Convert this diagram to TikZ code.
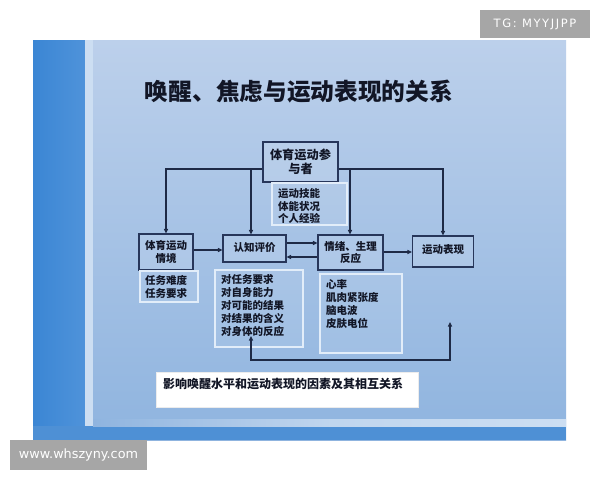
\documentclass[tikz,border=0pt]{standalone}
\usepackage{fontspec}
\newfontfamily\cjk{Noto Sans CJK SC}
\newfontfamily\wm{DejaVu Sans}
\usetikzlibrary{arrows.meta}
\definecolor{bgtop}{HTML}{BCD0EB}
\definecolor{bgbot}{HTML}{8FB4DF}
\definecolor{stripL}{HTML}{3B86D4}
\definecolor{stripR}{HTML}{4F93DA}
\definecolor{lightln}{HTML}{CCDEF2}
\definecolor{botstrip}{HTML}{3E87D2}
\definecolor{boxline}{HTML}{27365A}
\definecolor{subline}{HTML}{E2EDF9}
\definecolor{lc}{HTML}{1E2A46}
\definecolor{txt}{HTML}{121626}
\definecolor{wmgray}{HTML}{A6A6A6}
\tikzset{
  mainbox/.style={draw=boxline, line width=1.1pt, fill=white, fill opacity=0.12, text opacity=1,
    inner sep=0pt, align=center, text=txt, font=\cjk\bfseries\fontsize{10.5}{12.2}\selectfont},
  subbox/.style={draw=subline, line width=1.1pt, fill=white, fill opacity=0.08, inner sep=0pt},
  subtext/.style={anchor=west, inner sep=0pt, align=left, text=txt, font=\cjk\bfseries\fontsize{10.5}{12.8}\selectfont},
  arr/.style={draw=lc, line width=1.1pt, -{Triangle[length=4.5pt,width=4pt]}},
  biarr/.style={draw=lc, line width=1.1pt, {Triangle[length=4.5pt,width=4pt]}-{Triangle[length=4.5pt,width=4pt]}},
  wmbox/.style={fill=wmgray, inner sep=0pt, text=white}
}
\begin{document}
\begin{tikzpicture}[x=1pt,y=-1pt]
\useasboundingbox (0,0) rectangle (600,480);
\fill[white] (0,0) rectangle (600,480);
% slide background
\fill[top color=bgtop, bottom color=bgbot] (33,40) rectangle (566,440);
\fill[left color=stripL, right color=stripR] (33,40) rectangle (85,440);
\fill[lightln] (85,40) rectangle (93,440);
\fill[botstrip!80!bgbot] (33,426) rectangle (566,440);
\fill[left color=bgbot, right color=lightln, middle color=lightln!80!bgbot] (93,419) rectangle (566,426);
% watermarks
\node[wmbox, minimum width=110pt, minimum height=28pt] (wm1) at (535,24)
  {\wm\fontsize{11.5}{13}\selectfont\addfontfeature{LetterSpace=14}TG: MYYJJPP};
\node[wmbox, minimum width=137pt, minimum height=30pt] (wm2) at (78.5,455)
  {\wm\fontsize{12.8}{14}\selectfont www.whszyny.com};
% title
\node[inner sep=0pt, text=txt, font=\cjk\bfseries\fontsize{23.7}{28}\selectfont] (title) at (299,92)
  {唤醒、焦虑与运动表现的关系};
% main boxes
\node[mainbox, minimum width=75pt, minimum height=40pt, font=\cjk\bfseries\fontsize{12.2}{14}\selectfont] (top) at (300.5,162) {体育运动参\\与者};
\node[mainbox, minimum width=54pt, minimum height=36pt] (env) at (166,252) {体育运动\\情境};
\node[mainbox, minimum width=63pt, minimum height=27pt] (cog) at (254.5,248.5) {\raisebox{3pt}{认知评价}};
\node[mainbox, minimum width=65pt, minimum height=35pt] (emo) at (350.5,252.5) {情绪、生理\\反应};
\node[mainbox, minimum width=61pt, minimum height=31pt] (perf) at (443,251.5) {\raisebox{4pt}{运动表现}};
% sub boxes
\node[subbox, minimum width=75pt, minimum height=42pt] (stop) at (309.5,204) {};
\node[subtext] (stopt) at (278,206) {运动技能\\体能状况\\个人经验};
\node[subbox, minimum width=58pt, minimum height=31pt] (senv) at (169,286.5) {};
\node[subtext] (senvt) at (145,287) {任务难度\\任务要求};
\node[subbox, minimum width=88pt, minimum height=77pt] (scog) at (259,308.5) {};
\node[subtext] (scogt) at (221,305.5) {对任务要求\\对自身能力\\对可能的结果\\对结果的含义\\对身体的反应};
\node[subbox, minimum width=82pt, minimum height=79pt] (semo) at (361,313.5) {};
\node[subtext] (semot) at (326,304) {心率\\肌肉紧张度\\脑电波\\皮肤电位};
% bottom caption box
\node[fill=white, draw=white!85!gray, line width=0.5pt, minimum width=262pt, minimum height=35pt, inner sep=0pt] (cap) at (287,389.5) {};
\node[anchor=west, inner sep=0pt, text=txt, font=\cjk\bfseries\fontsize{12}{14}\selectfont] (capt) at (163,384) {影响唤醒水平和运动表现的因素及其相互关系};
% helper coordinates
\coordinate (topline) at (300,169);
\coordinate (br1) at (251,169);
\coordinate (br2) at (350,169);
\coordinate (h1) at (0,250);
\coordinate (h2) at (0,243);
\coordinate (h3) at (0,257);
\coordinate (h4) at (0,252);
\coordinate (fbL) at (251,336);
\coordinate (fbR) at (450,322);
\coordinate (fbline) at (300,360);
% connectors
\draw[arr] (top.west |- topline) -| (env.north);
\draw[arr] (br1) -- (br1 |- cog.north);
\draw[arr] (top.east |- topline) -| (perf.north);
\draw[arr] (br2) -- (br2 |- emo.north);
\draw[arr] (env.east |- h1) -- (cog.west |- h1);
\draw[arr] (cog.east |- h2) -- (emo.west |- h2);
\draw[arr] (emo.west |- h3) -- (cog.east |- h3);
\draw[arr] (emo.east |- h4) -- (perf.west |- h4);
\draw[biarr] (fbL) -- (fbL |- fbline) -| (fbR);
\end{tikzpicture}
\end{document}
